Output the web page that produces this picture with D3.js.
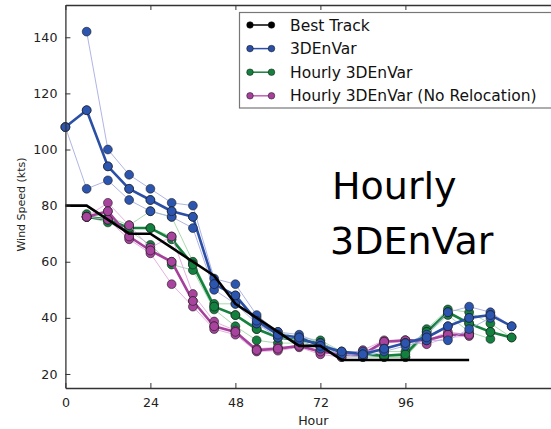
<!DOCTYPE html>
<html>
<head>
<meta charset="utf-8">
<script src="https://cdn.jsdelivr.net/npm/d3@7"></script>
<style>
  html, body { margin: 0; padding: 0; background: #fff; }
  svg { display: block; font-family: "DejaVu Sans", sans-serif; }
</style>
</head>
<body>
<svg id="chart" width="551" height="429"></svg>
<script>
// ---------------- data ----------------
const hours = [0, 6, 12, 18, 24, 30, 36, 42, 48, 54, 60, 66, 72, 78, 84, 90, 96, 102, 108, 114, 120, 126];
const xTicks = [0, 24, 48, 72, 96];
const yTicks = [20, 40, 60, 80, 100, 120, 140];

const bestTrack = [80, 80, 75, 70, 70, 65, 60, 55, 45, 40, 35, 30, 30, 25, 25, 25, 25, 25, 25, 25, null, null];

// 3DEnVar
const blueMean = [108, 114, 94, 86, 82, 78, 76, 52, 48, 39, 34, 33, 30, 28, 27, 29, 31, 33, 37, 40, 41, 37];
const blueRunA = [null, 142, 100, 91, 86, 81, 80, 54, 52, 41, 35, 34, 31, 28, 28, 29, 31, 34, 42, 44, 42, 37];
const blueRunB = [108, 114, 94, 86, 82, 78, 76, 52, 48, 38, 34, 33, 30, 27, 27, 29, 31, 33, 37, 40, 41, null];
const blueRunC = [108, 86, 89, 82, 78, 76, 72, 50, 45, 38, 33, 32, 29, 27, 26, 28, 30, 32, 32, 36, 40, null];

// Hourly 3DEnVar
const greenMean = [null, 76, 75, 72, 72, 68, 59, 44, 41, 36, 33, 32, 31, 27, 27, 26.5, 27, 35, 42, 38, 35, 33];
const greenRunA = [null, 77, 76, 73, 78, 76, 60, 45, 45, 40, 35, 33, 32, 28, 28, 28, 28, 36, 43, 42, 38, 33];
const greenRunB = [null, 76, 75, 72, 72, 69, 59, 44, 41, 36, 33, 32, 31, 27, 27, 26, 26, 35, 42, 38, 35, null];
const greenRunC = [null, 76, 74, 71, 66, 59, 57, 43, 37, 32, 31, 31, 30, 26, 26, 26, 26, 34, 41, 35, 32.5, null];

// Hourly 3DEnVar (No Relocation)
const purpleMean = [null, 76, 78, 69, 64, 60, 46, 37, 35, 28.5, 29, 30, 28, 27, 27, 31.5, 32, 32, 34, 34, null, null];
const purpleRunA = [null, 76, 81, 73, 65, 69, 48.5, 38.7, 35.5, 29, 29.5, 30, 28, 27, 28.5, 32, 32, 32, 35, 34, null, null];
const purpleRunB = [null, 76, 78, 69, 64, 60, 46, 37, 35, 28.5, 29, 30, 27.5, 27, 27, 31.5, 32, 31.5, 34, 34, null, null];
const purpleRunC = [null, 76, 75, 68, 63, 52, 44, 36, 34, 28, 28.3, 29.5, 27, 26, 26.4, 31, 31.5, 30.6, 33, 33.5, null, null];

const legendLabels = ["Best Track", "3DEnVar", "Hourly 3DEnVar", "Hourly 3DEnVar (No Relocation)"];

// ---------------- drawing ----------------
const svg = d3.select("#chart");
const L = 65.4, R = 575.4, T = 5, B = 388;
const x = d3.scaleLinear().domain([0, 144]).range([L, R]);
const y = d3.scaleLinear().domain([15, 151.5]).range([B, T]);

const line = d3.line()
  .defined(d => d[1] != null)
  .x(d => x(d[0])).y(d => y(d[1]));
const pts = arr => hours.map((h, i) => [h, arr[i]]);

const models = [
  { mean: greenMean, runs: [greenRunA, greenRunB, greenRunC], thick: "#16803f", thin: "#9fd6a6", fill: "#138040" },
  { mean: purpleMean, runs: [purpleRunA, purpleRunB, purpleRunC], thick: "#a5409b", thin: "#e3a6dc", fill: "#a8449e" },
  { mean: blueMean, runs: [blueRunA, blueRunB, blueRunC], thick: "#2b4fa5", thin: "#a6abe2", fill: "#2c55b0" }
];

const plot = svg.append("g");
const R_MARK = 4.4;

models.forEach(m => {
  m.runs.forEach(r => {
    plot.append("path").attr("d", line(pts(r)))
      .attr("fill", "none").attr("stroke", m.thin).attr("stroke-width", 0.9);
  });
  plot.append("path").attr("d", line(pts(m.mean)))
    .attr("fill", "none").attr("stroke", m.thick).attr("stroke-width", 2.6)
    .attr("stroke-linejoin", "round");
  [...m.runs, m.mean].forEach(r => {
    plot.selectAll(null).data(pts(r).filter(d => d[1] != null)).enter()
      .append("circle")
      .attr("cx", d => x(d[0])).attr("cy", d => y(d[1])).attr("r", R_MARK)
      .attr("fill", m.fill).attr("stroke", "#1a1a1a").attr("stroke-width", 0.6);
  });
});

plot.append("path").attr("d", line(pts(bestTrack)))
  .attr("fill", "none").attr("stroke", "#000").attr("stroke-width", 2.6);

// axes (ticks inward)
const axColor = "#333";
const xAxis = svg.append("g").attr("transform", `translate(0,${B})`)
  .call(d3.axisBottom(x).tickValues(xTicks).tickSizeInner(-5).tickSizeOuter(0).tickPadding(10).tickFormat(d3.format("d")));
const xTop = svg.append("g").attr("transform", `translate(0,${T})`)
  .call(d3.axisTop(x).tickValues(xTicks).tickSizeInner(-5).tickSizeOuter(0).tickFormat(""));
const yAxis = svg.append("g").attr("transform", `translate(${L},0)`)
  .call(d3.axisLeft(y).tickValues(yTicks).tickSizeInner(-5).tickSizeOuter(0).tickPadding(8));
[xAxis, xTop, yAxis].forEach(g => {
  g.select(".domain").attr("stroke", axColor).attr("stroke-width", 1.3);
  g.selectAll(".tick line").attr("stroke", axColor).attr("stroke-width", 1);
  g.selectAll("text").attr("font-size", 12.6).attr("fill", "#222").attr("font-family", "DejaVu Sans");
});

svg.append("text").attr("x", x(70)).attr("y", 425).attr("text-anchor", "middle")
  .attr("font-size", 12.6).attr("fill", "#222").text("Hour");
svg.append("text").attr("transform", `translate(25,${(T + B) / 2 + 8}) rotate(-90)`)
  .attr("text-anchor", "middle").attr("font-size", 11).attr("fill", "#222").text("Wind Speed (kts)");

// big annotation
const ann = svg.append("text").attr("font-size", 38).attr("fill", "#000");
ann.append("tspan").attr("x", 332).attr("y", 199).text("Hourly");
ann.append("tspan").attr("x", 330).attr("y", 254).text("3DEnVar");

// legend
const legend = svg.append("g");
legend.append("rect").attr("x", 239.5).attr("y", 12.5).attr("width", 330).attr("height", 95.5)
  .attr("fill", "#fff").attr("stroke", "#777").attr("stroke-width", 1.2);
const legColors = ["#000", "#2b4fa5", "#16803f", "#a5409b"];
const legThin = ["#000", "#2b4fa5", "#16803f", "#c35fb8"];
legendLabels.forEach((lab, i) => {
  const cy = 25 + i * 23.6;
  legend.append("line").attr("x1", 250).attr("x2", 271.5).attr("y1", cy).attr("y2", cy)
    .attr("stroke", legThin[i]).attr("stroke-width", 1.5);
  [250, 271.5].forEach(cx => legend.append("circle").attr("cx", cx).attr("cy", cy).attr("r", 3.3)
    .attr("fill", legColors[i]).attr("stroke", "#111").attr("stroke-width", 0.5));
  legend.append("text").attr("x", 290).attr("y", cy + 5.5).attr("font-size", 15.5).attr("fill", "#111").text(lab);
});
</script>
</body>
</html>
